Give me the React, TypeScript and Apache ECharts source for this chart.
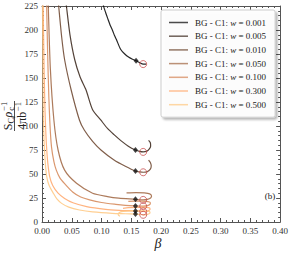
import React, { useEffect, useRef } from 'react';
import * as echarts from 'echarts';

const FONT = "'Liberation Serif', 'Times New Roman', 'DejaVu Serif', serif";

const wValues = ['0.001', '0.005', '0.010', '0.050', '0.100', '0.300', '0.500'];
const seriesColors = ['#000000', '#352115', '#6a422a', '#9f643f', '#d48555', '#ffa66a', '#ffc77f'];

const curveW001 = [
  [0.100, 240], [0.1034, 225], [0.107, 218], [0.111, 211], [0.1145, 205], [0.1185, 199.5],
  [0.122, 194], [0.125, 190], [0.132, 180], [0.139, 175], [0.146, 171.5], [0.152, 169.5],
  [0.158, 168], [0.164, 166], [0.170, 164.5], [0.175, 164.5],
];
const curveW005 = [
  [0.037, 245], [0.041, 225], [0.047, 195], [0.055, 169], [0.064, 151], [0.074, 137.5],
  [0.085, 117], [0.099, 106], [0.110, 97.5], [0.121, 91], [0.133, 84.5], [0.145, 79],
  [0.157, 75], [0.164, 73.5], [0.170, 73], [0.176, 73.8], [0.180, 76], [0.1825, 79],
  [0.182, 82.5], [0.179, 85],
];
const curveW010 = [
  [0.025, 245], [0.028, 225], [0.033, 193], [0.038, 169], [0.049, 137.5], [0.063, 106],
  [0.071, 95.8], [0.085, 84], [0.099, 75], [0.121, 64.6], [0.140, 58], [0.157, 53],
  [0.164, 52.2], [0.170, 51.8], [0.177, 52.5], [0.182, 55], [0.1835, 58.5], [0.182, 62],
  [0.179, 64.5],
];
const curveW050 = [
  [0.0095, 245], [0.0105, 225], [0.014, 160], [0.020, 106], [0.027, 75], [0.038, 54],
  [0.058, 40.3], [0.085, 30], [0.110, 26.5], [0.129, 24.8], [0.157, 23.6], [0.164, 23.2],
  [0.170, 23], [0.177, 23.5], [0.1825, 25], [0.184, 27], [0.181, 29.3], [0.172, 30.3],
  [0.158, 30.6], [0.142, 30.3],
];
const curveW100 = [
  [0.0070, 245], [0.0078, 225], [0.0095, 175], [0.0115, 130], [0.0135, 100], [0.016, 78],
  [0.020, 63], [0.024, 54], [0.030, 46], [0.038, 40], [0.052, 31], [0.065, 26], [0.080, 23],
  [0.100, 20.3], [0.124, 18.4], [0.140, 17.4], [0.157, 16.7], [0.164, 16.6], [0.170, 16.5],
  [0.177, 17], [0.1815, 18.5], [0.182, 20], [0.178, 21.2], [0.168, 21.8], [0.155, 21.8],
  [0.145, 21.4],
];
const curveW300 = [
  [0.0015, 245], [0.002, 225], [0.0035, 160], [0.005, 117], [0.0065, 92], [0.008, 75],
  [0.010, 60], [0.013, 47], [0.018, 38], [0.027, 30], [0.038, 24.5], [0.052, 20],
  [0.075, 16], [0.107, 13.2], [0.130, 12.2], [0.157, 11.5], [0.164, 11.2], [0.170, 11],
  [0.177, 11.5], [0.1815, 13], [0.181, 14.5], [0.175, 15.3], [0.160, 15.3], [0.145, 15],
  [0.136, 14.2],
];
const curveW500 = [
  [0.0003, 245], [0.0008, 225], [0.0015, 160], [0.002, 117], [0.0035, 85], [0.0055, 62],
  [0.008, 47], [0.012, 38], [0.019, 30], [0.025, 24], [0.033, 19.4], [0.045, 15.5],
  [0.063, 12.5], [0.085, 10.5], [0.118, 9], [0.140, 8.6], [0.157, 8.3], [0.164, 8],
  [0.170, 7.5], [0.177, 8], [0.1815, 9.5], [0.180, 11], [0.172, 11.6], [0.150, 11.6],
  [0.136, 11], [0.129, 9.5], [0.128, 7.5], [0.131, 6],
];
const curves = [curveW001, curveW005, curveW010, curveW050, curveW100, curveW300, curveW500];

const diamondBeta = [0.158, 0.157, 0.157, 0.157, 0.157, 0.157, 0.157];
const diamondValues = [168, 75, 53, 23.6, 16.7, 11.5, 8.3];
const circleBeta = [0.170, 0.170, 0.170, 0.170, 0.170, 0.170, 0.170];
const circleValues = [164.5, 73, 51.8, 23, 16.5, 11, 7.5];

const xMin = 0, xMax = 0.4, xInterval = 0.05;
const yMin = 0, yMax = 225, yInterval = 25;

export default function App() {
  const ref = useRef<HTMLDivElement>(null);
  useEffect(() => {
    if (!ref.current) return;
    const chart = echarts.init(ref.current, undefined, { renderer: 'svg' });
    const names = wValues.map((w) => `BG - C1: w = ${w}`);
    const axisColor = '#555555';
    const labelColor = '#333333';

    const baseX = {
      type: 'value', min: xMin, max: xMax, interval: xInterval,
      axisLine: { show: true, onZero: false, lineStyle: { color: axisColor, width: 1 } },
      axisTick: { show: true, inside: true, length: 4, lineStyle: { color: axisColor } },
      minorTick: { show: true, splitNumber: 5, length: 2, lineStyle: { color: axisColor } },
      splitLine: { show: false },
    };
    const baseY = {
      type: 'value', min: yMin, max: yMax, interval: yInterval,
      axisLine: { show: true, onZero: false, lineStyle: { color: axisColor, width: 1 } },
      axisTick: { show: true, inside: true, length: 4, lineStyle: { color: axisColor } },
      minorTick: { show: true, splitNumber: 5, length: 2, lineStyle: { color: axisColor } },
      splitLine: { show: false },
    };

    const sub = (text: string, x: number, y: number, size: number, italic = false) => ({
      type: 'text', x, y,
      style: {
        text, fontSize: size, fontFamily: FONT, fontStyle: italic ? 'italic' : 'normal',
        fill: '#222', verticalAlign: 'middle', align: 'left',
      },
    });

    const option: any = {
      animation: false,
      grid: { left: 42, top: 6, right: 8, bottom: 33, containLabel: false },
      xAxis: [
        {
          ...baseX, position: 'bottom',
          axisLabel: {
            show: true, margin: 4, color: labelColor, fontFamily: FONT, fontSize: 9,
            formatter: (v: number) => v.toFixed(2),
          },
        },
        { ...baseX, position: 'top', axisLabel: { show: false } },
      ],
      yAxis: [
        {
          ...baseY, position: 'left',
          axisLabel: { show: true, margin: 4, color: labelColor, fontFamily: FONT, fontSize: 9 },
        },
        { ...baseY, position: 'right', axisLabel: { show: false } },
      ],
      legend: {
        data: names,
        orient: 'vertical',
        left: 161, top: 10,
        itemWidth: 19, itemHeight: 8, itemGap: 4.7,
        padding: [8, 9, 8, 8],
        icon: 'path://M0,0 L40,0 L40,3.2 L0,3.2 Z',
        symbolKeepAspect: true,
        backgroundColor: 'rgba(255,255,255,0.92)',
        borderColor: '#cccccc', borderWidth: 1, borderRadius: 2,
        shadowColor: 'rgba(0,0,0,0.3)', shadowBlur: 2, shadowOffsetX: 2, shadowOffsetY: 2,
        itemStyle: { opacity: 0.7, borderWidth: 0 },
        textStyle: {
          fontFamily: FONT, fontSize: 9, color: '#222', padding: [0, 0, 0, 2],
          rich: {
            a: { fontFamily: FONT, fontSize: 9, color: '#222' },
            i: { fontFamily: FONT, fontSize: 9, color: '#222', fontStyle: 'italic' },
          },
        },
        formatter: (name: string) => {
          const w = name.split('= ')[1];
          return `{a|BG - C1: }{i|w}{a| = ${w}}`;
        },
      },
      series: [
        ...curves.map((data, i) => ({
          name: names[i],
          type: 'line',
          data,
          xAxisIndex: 0, yAxisIndex: 0,
          symbol: 'none', showSymbol: false,
          smooth: 0.25,
          clip: true,
          lineStyle: { color: seriesColors[i], width: 1.2, opacity: 0.85 },
          itemStyle: { color: seriesColors[i] },
        })),
        {
          name: 'diamonds', type: 'scatter', xAxisIndex: 0, yAxisIndex: 0,
          symbol: 'diamond', symbolSize: [5, 6], z: 5,
          itemStyle: { color: '#111111' },
          data: diamondBeta.map((b, i) => [b, diamondValues[i]]),
        },
        {
          name: 'circles', type: 'scatter', xAxisIndex: 0, yAxisIndex: 0,
          symbol: 'circle', symbolSize: 7, z: 5,
          itemStyle: { color: 'rgba(0,0,0,0)', borderColor: '#c85050', borderWidth: 1 },
          data: circleBeta.map((b, i) => [b, circleValues[i]]),
        },
      ],
      graphic: [
        {
          type: 'text', x: 158, y: 243,
          style: { text: 'β', fontSize: 14, fontStyle: 'italic', fontFamily: FONT, fill: '#222', align: 'center', verticalAlign: 'middle' },
        },
        {
          type: 'text', x: 270, y: 196,
          style: { text: '(b)', fontSize: 9, fontFamily: FONT, fill: '#222', align: 'center', verticalAlign: 'middle' },
        },
        {
          type: 'group', x: 14.5, y: 116, rotation: Math.PI / 2,
          children: [
            sub('S', -14.2, -7, 12),
            sub('C', -7.5, -3.5, 8.5),
            sub('ρ', -1.6, -7, 12, true),
            sub('c', 5.2, -3.5, 8.5),
            sub('−1', 5.2, -10.5, 8.5),
            { type: 'line', shape: { x1: -15, y1: 0, x2: 15, y2: 0 }, style: { stroke: '#222', lineWidth: 0.8 } },
            sub('4πb', -13.8, 7.5, 12),
            sub('−1', 5, 3.5, 8.5),
          ],
        },
      ],
    };
    chart.setOption(option);
    return () => chart.dispose();
  }, []);
  return <div ref={ref} style={{ width: 291, height: 255, position: 'absolute', left: 0, top: 0 }} />;
}
